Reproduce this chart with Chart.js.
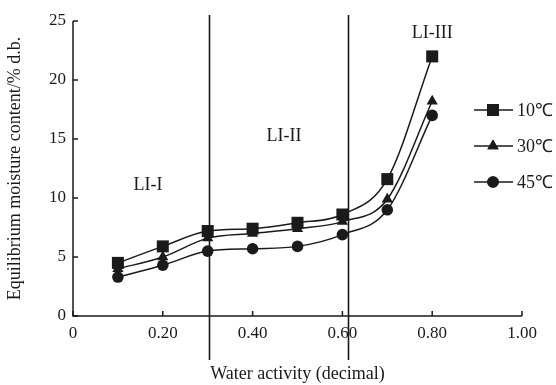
<!DOCTYPE html>
<html>
<head>
<meta charset="utf-8">
<script src="https://cdn.jsdelivr.net/npm/chart.js@4/dist/chart.umd.min.js"></script>
<style>
  html, body { margin: 0; padding: 0; background: #fff; }
  #wrap { width: 556px; height: 385px; position: relative; }
</style>
</head>
<body>
<div id="wrap"><canvas id="isoChart"></canvas></div>
<script>
// water activity values
const activity = [0.1, 0.2, 0.3, 0.4, 0.5, 0.6, 0.7, 0.8];
// equilibrium moisture content, % d.b.
const emc10 = [4.5, 5.9, 7.2, 7.4, 7.9, 8.6, 11.6, 22.0];
const emc30 = [4.0, 5.0, 6.6, 7.0, 7.4, 8.0, 9.9, 18.2];
const emc45 = [3.3, 4.3, 5.5, 5.7, 5.9, 6.9, 9.0, 17.0];
const seriesNames = ['10℃', '30℃', '45℃'];
const seriesMarks = ['rect', 'triangle', 'circle'];
const xTicks = [0, 0.2, 0.4, 0.6, 0.8, 1.0];
const yTicks = [0, 5, 10, 15, 20, 25];
// zone boundaries and labels
const zoneLines = [0.302, 0.613];
const zoneNames = ['LI-I', 'LI-II', 'LI-III'];
const zoneSpots = [[0.167, 11.1], [0.47, 15.2], [0.8, 24.0]];

const INK = '#1a1a1a';
const FONT = '"Liberation Serif", "Times New Roman", serif';
const markSize = { rect: 8.5, triangle: 6.5, circle: 5.8 };

function makeSet(label, values, mark){
	return {
		label: label,
		data: activity.map((a, i) => ({x: a, y: values[i]})),
		borderColor: INK,
		backgroundColor: INK,
		borderWidth: 1.5,
		pointStyle: mark,
		pointRadius: markSize[mark],
		pointBorderWidth: 0,
		cubicInterpolationMode: 'monotone',
		fill: false
	};
}

const extras = {
	id: 'extras',
	afterDraw(chart){
		const ctx = chart.ctx;
		const xs = chart.scales.x, ys = chart.scales.y;
		const area = chart.chartArea;
		ctx.save();
		ctx.strokeStyle = INK;
		ctx.lineWidth = 1.5;
		// axis lines
		ctx.beginPath();
		ctx.moveTo(area.left, ys.getPixelForValue(25));
		ctx.lineTo(area.left, area.bottom);
		ctx.lineTo(xs.getPixelForValue(1), area.bottom);
		ctx.stroke();
		// inward ticks
		ctx.beginPath();
		yTicks.forEach(v => {
			const py = ys.getPixelForValue(v);
			ctx.moveTo(area.left, py);
			ctx.lineTo(area.left + 5, py);
		});
		xTicks.forEach(v => {
			const px = xs.getPixelForValue(v);
			ctx.moveTo(px, area.bottom);
			ctx.lineTo(px, area.bottom - 5);
		});
		ctx.stroke();
		// zone boundaries
		ctx.lineWidth = 1.6;
		ctx.beginPath();
		zoneLines.forEach(v => {
			const px = Math.round(xs.getPixelForValue(v)) + 0.5;
			ctx.moveTo(px, 15);
			ctx.lineTo(px, 360);
		});
		ctx.stroke();
		// zone labels
		ctx.fillStyle = INK;
		ctx.font = '18px ' + FONT;
		ctx.textAlign = 'center';
		ctx.textBaseline = 'middle';
		zoneNames.forEach((n, i) => {
			ctx.fillText(n, xs.getPixelForValue(zoneSpots[i][0]), ys.getPixelForValue(zoneSpots[i][1]));
		});
		// legend
		const rows = [110, 146, 182];
		ctx.textAlign = 'left';
		chart.data.datasets.forEach((ds, i) => {
			const y = rows[i];
			ctx.lineWidth = 1.5;
			ctx.beginPath();
			ctx.moveTo(474, y);
			ctx.lineTo(513, y);
			ctx.stroke();
			Chart.helpers.drawPoint(ctx, {pointStyle: ds.pointStyle, radius: ds.pointRadius, borderWidth: 0}, 493, y);
			ctx.fill();
			ctx.fillText(ds.label, 517, y + 1);
		});
		ctx.restore();
	}
};

new Chart(document.getElementById('isoChart').getContext('2d'), {
	type: 'line',
	data: {
		datasets: [
			makeSet(seriesNames[0], emc10, seriesMarks[0]),
			makeSet(seriesNames[1], emc30, seriesMarks[1]),
			makeSet(seriesNames[2], emc45, seriesMarks[2])
		]
	},
	options: {
		responsive: true,
		maintainAspectRatio: false,
		animation: false,
		layout: { padding: { left: 0, right: 34, top: 21, bottom: 0 } },
		plugins: { legend: { display: false }, tooltip: { enabled: false } },
		scales: {
			x: {
				type: 'linear',
				min: 0, max: 1,
				afterFit(scale){ scale.height = 69; },
				afterBuildTicks(scale){ scale.ticks = xTicks.map(v => ({value: v})); },
				grid: { display: false, drawTicks: false },
				border: { display: false },
				ticks: {
					color: INK, padding: 7,
					font: { family: FONT, size: 17 },
					callback: v => v === 0 ? '0' : v.toFixed(2)
				},
				title: {
					display: true, text: 'Water activity (decimal)', color: INK,
					font: { family: FONT, size: 18 }, padding: { top: 0, bottom: 0 }
				}
			},
			y: {
				min: 0, max: 25,
				afterFit(scale){ scale.width = 73; },
				afterBuildTicks(scale){ scale.ticks = yTicks.map(v => ({value: v})); },
				grid: { display: false, drawTicks: false },
				border: { display: false },
				ticks: { color: INK, padding: 7, font: { family: FONT, size: 17 } },
				title: {
					display: true, text: 'Equilibrium moisture content/% d.b.', color: INK,
					font: { family: FONT, size: 18 }, padding: { top: 4, bottom: 0 }
				}
			}
		}
	},
	plugins: [extras]
});
</script>
</body>
</html>
